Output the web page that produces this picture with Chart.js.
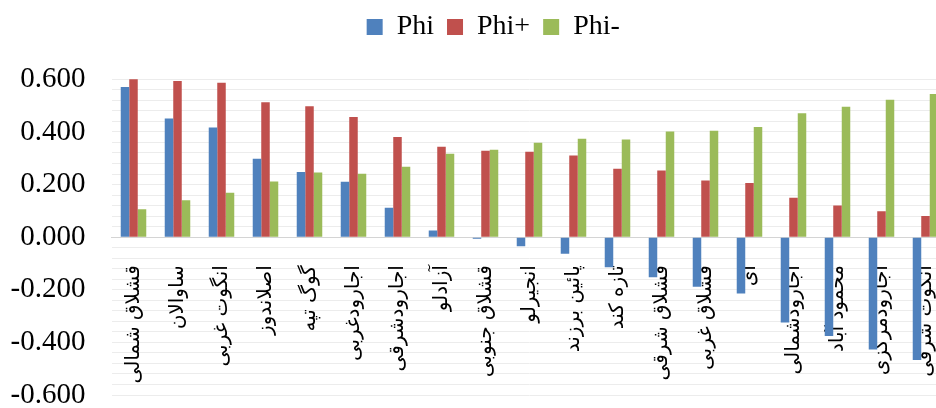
<!DOCTYPE html>
<html>
<head>
<meta charset="utf-8">
<script src="https://cdn.jsdelivr.net/npm/chart.js@4.4.1/dist/chart.umd.min.js"></script>
<style>
  html, body { margin: 0; padding: 0; overflow: hidden; background: #fff; }
  #wrap { position: absolute; left: 0; top: 0; width: 976px; height: 408px; }
</style>
</head>
<body>
<div id="wrap"><canvas id="c" width="976" height="408"></canvas></div>
<script>
// Villages, in the order of the bars
const villages = [
  'قشلاق شمالی', 'ساوالان', 'انگوت غربی', 'اصلاندوز', 'گوگ تپه',
  'اجارودغربی', 'اجارودشرقی', 'آزادلو', 'قشلاق جنوبی', 'انجیرلو',
  'پائین برزند', 'تازه کند', 'قشلاق شرقی', 'قشلاق غربی', 'ای',
  'اجارودشمالی', 'محمود آباد', 'اجارودمرکزی', 'انگوت شرقی'
];

const phi      = [0.571, 0.451, 0.417, 0.298, 0.248, 0.211, 0.112, 0.025, -0.006, -0.035,
                  -0.063, -0.114, -0.152, -0.189, -0.214, -0.324, -0.376, -0.427, -0.467];
const phiPlus  = [0.601, 0.594, 0.587, 0.513, 0.498, 0.457, 0.381, 0.344, 0.328, 0.325,
                  0.310, 0.260, 0.253, 0.215, 0.206, 0.150, 0.120, 0.098, 0.080];
const phiMinus = [0.106, 0.140, 0.169, 0.212, 0.246, 0.241, 0.268, 0.317, 0.332, 0.359,
                  0.374, 0.371, 0.402, 0.404, 0.419, 0.471, 0.496, 0.522, 0.544];

const seriesNames = ['Phi', 'Phi+', 'Phi-'];

// Value axis: light lines every 0.04, labels every 0.2
const yMin = -0.6, yMax = 0.6, gridStep = 0.04, labelStep = 0.2;

const colors = ['#4F81BD', '#C0504D', '#9BBB59'];

function isLabelled(v) {
  const k = v / labelStep;
  return Math.abs(k - Math.round(k)) < 1e-6;
}

new Chart(document.getElementById('c'), {
  type: 'bar',
  data: {
    labels: villages,
    datasets: [phi, phiPlus, phiMinus].map((d, i) => ({
      label: seriesNames[i],
      data: d,
      backgroundColor: colors[i],
      borderWidth: 0,
      barPercentage: 1,
      categoryPercentage: 0.58
    }))
  },
  options: {
    responsive: false,
    animation: false,
    devicePixelRatio: 1,
    layout: { padding: { left: 11, right: 0.5, top: 0, bottom: 0 } },
    plugins: {
      tooltip: { enabled: false },
      legend: {
        position: 'top',
        labels: {
          font: { family: "'Liberation Serif', 'Times New Roman', serif", size: 28 },
          color: '#000',
          boxWidth: 16,
          boxHeight: 16,
          padding: 13
        }
      },
      // blank band between the legend and the plot
      subtitle: {
        display: true,
        text: '',
        position: 'top',
        weight: 500,
        font: { size: 1, lineHeight: 1 },
        padding: { top: 0, bottom: 27.3 }
      }
    },
    scales: {
      x: {
        position: { y: 0 },
        grid: { display: false },
        border: { display: true, color: '#d4d4d4', width: 1 },
        ticks: {
          autoSkip: false,
          minRotation: 90,
          maxRotation: 90,
          padding: 20,
          color: '#000',
          font: { family: "'DejaVu Sans', sans-serif", size: 20 }
        }
      },
      y: {
        min: yMin,
        max: yMax,
        afterFit: (scale) => {
          scale.width = 100.5;
          scale.paddingTop = 0;
          scale.paddingBottom = 13;
        },
        grid: {
          drawTicks: false,
          color: (ctx) => (ctx.tick && Math.abs(ctx.tick.value) < 1e-9 ? '#d4d4d4' : '#ececec'),
          lineWidth: 1
        },
        border: { display: false },
        ticks: {
          stepSize: gridStep,
          autoSkip: false,
          padding: 26,
          color: '#000',
          font: { family: "'Liberation Serif', 'Times New Roman', serif", size: 29, lineHeight: 0.9 },
          callback: (v) => (isLabelled(v) ? Number(v).toFixed(3) : '')
        }
      },
      // empty margin on the right of the plot
      yRight: {
        position: 'right',
        display: true,
        afterFit: (scale) => { scale.width = 28; },
        grid: { display: false, drawOnChartArea: false },
        border: { display: false },
        ticks: { display: false }
      }
    }
  }
});
</script>
</body>
</html>
